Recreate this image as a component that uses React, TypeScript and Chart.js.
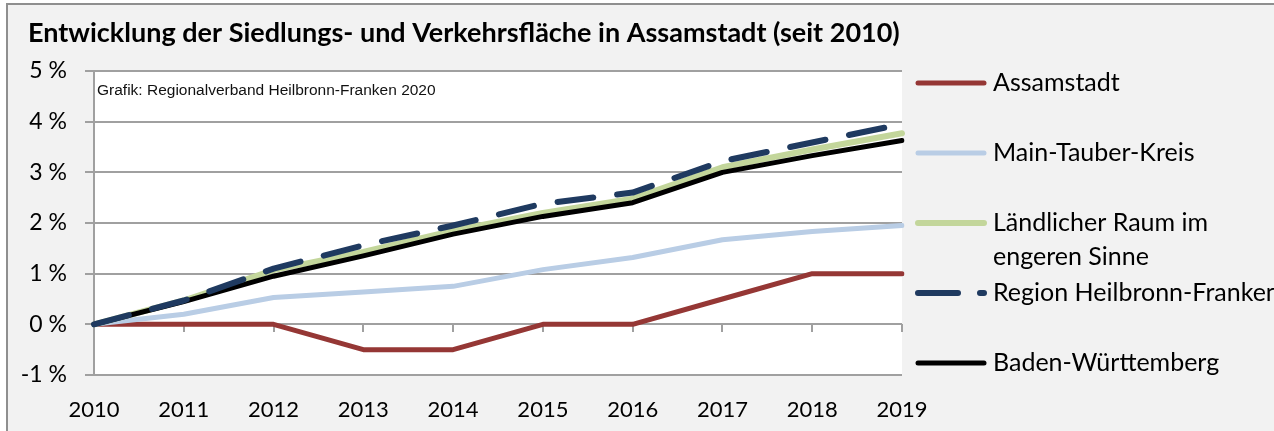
import React, { useEffect, useRef } from "react";
import { Chart, registerables } from "chart.js";
Chart.register(...registerables);

const titleText = "Entwicklung der Siedlungs- und Verkehrsfläche in Assamstadt (seit 2010)";
const sourceNote = "Grafik: Regionalverband Heilbronn-Franken 2020";
const years = ["2010", "2011", "2012", "2013", "2014", "2015", "2016", "2017", "2018", "2019"];
const yTicks = [-1, 0, 1, 2, 3, 4, 5];

const seriesLabels = [
  "Assamstadt",
  "Main-Tauber-Kreis",
  "Ländlicher Raum im\nengeren Sinne",
  "Region Heilbronn-Franken",
  "Baden-Württemberg",
];
const assamstadt = [0, 0, 0, -0.5, -0.5, 0, 0, 0.5, 1, 1];
const mainTauber = [0, 0.2, 0.53, 0.64, 0.75, 1.08, 1.32, 1.67, 1.83, 1.95];
const laendlich = [0, 0.47, 1.07, 1.43, 1.85, 2.2, 2.48, 3.1, 3.45, 3.77];
const region = [0, 0.47, 1.1, 1.56, 1.95, 2.38, 2.6, 3.22, 3.59, 3.95];
const badenWue = [0, 0.45, 0.95, 1.35, 1.78, 2.13, 2.4, 3.0, 3.33, 3.63];

const FONT = "Lato, 'Open Sans', sans-serif";
const GRID = "#a0a0a0";

const decorPlugin = {
  id: "decor",
  beforeDraw(chart: any) {
    const { ctx, chartArea } = chart;
    ctx.save();
    ctx.fillStyle = "#ffffff";
    ctx.fillRect(chartArea.left, chartArea.top, chartArea.right - chartArea.left, chartArea.bottom - chartArea.top);
    ctx.restore();
  },
  beforeDatasetsDraw(chart: any) {
    const { ctx, scales } = chart;
    const x = scales.x;
    const y0 = Math.round(scales.y.getPixelForValue(0));
    ctx.save();
    ctx.strokeStyle = GRID;
    ctx.lineWidth = 2;
    for (let i = 0; i < years.length; i++) {
      const px = Math.round(x.getPixelForValue(i));
      ctx.beginPath();
      ctx.moveTo(px, y0);
      ctx.lineTo(px, y0 + 8);
      ctx.stroke();
    }
    // source note
    ctx.fillStyle = "#111";
    ctx.font = "15.5px 'Liberation Sans', Arial, sans-serif";
    ctx.textBaseline = "middle";
    ctx.textAlign = "left";
    ctx.fillText(sourceNote, chart.chartArea.left + 3, 91);
    ctx.restore();
  },
  afterDraw(chart: any) {
    const { ctx } = chart;
    ctx.save();
    // title
    ctx.fillStyle = "#000";
    ctx.font = `bold 27px ${FONT}`;
    ctx.textBaseline = "alphabetic";
    ctx.textAlign = "left";
    ctx.fillText(titleText, 28, 42);
    // legend
    const x0 = 915;
    const x1 = 987;
    let yc = 83;
    chart.data.datasets.forEach((ds: any) => {
      ctx.save();
      ctx.strokeStyle = ds.borderColor;
      ctx.lineWidth = ds.borderWidth;
      ctx.lineCap = "round";
      if (ds.borderDash) {
        ctx.setLineDash([40, 22]);
      }
      ctx.beginPath();
      ctx.moveTo(x0 + 3, yc);
      ctx.lineTo(x1 - 3, yc);
      ctx.stroke();
      ctx.restore();
      ctx.fillStyle = "#000";
      ctx.font = `25px ${FONT}`;
      ctx.textBaseline = "middle";
      const lines = String(ds.label).split("\n");
      lines.forEach((ln: string, k: number) => ctx.fillText(ln, 993, yc + k * 34));
      yc += 70;
    });
    ctx.restore();
  },
};

export default function App() {
  const ref = useRef<HTMLCanvasElement | null>(null);
  useEffect(() => {
    if (!ref.current) return;
    const mk = (i: number, data: number[], color: string, width: number, order: number, dash?: number[]) => ({
      label: seriesLabels[i],
      data,
      borderColor: color,
      backgroundColor: color,
      borderWidth: width,
      borderDash: dash,
      borderCapStyle: "round",
      borderJoinStyle: "round",
      pointRadius: 0,
      tension: 0,
      fill: false,
      order,
    });
    const chart = new Chart(ref.current, {
      type: "line",
      data: {
        labels: years,
        datasets: [
          mk(0, assamstadt, "#953735", 5, 5),
          mk(1, mainTauber, "#b9cde5", 5, 4),
          mk(2, laendlich, "#c3d69b", 6, 3),
          mk(3, region, "#1f3a60", 6, 1, [36, 24]),
          mk(4, badenWue, "#000000", 5, 2),
        ] as any,
      },
      options: {
        animation: false,
        responsive: false,
        maintainAspectRatio: false,
        devicePixelRatio: 1,
        layout: { padding: { top: 71, right: 372, left: 0, bottom: 0 } },
        plugins: { legend: { display: false }, tooltip: { enabled: false }, title: { display: false } },
        scales: {
          x: {
            type: "category",
            offset: false,
            grid: { display: false, drawTicks: false },
            border: { display: false },
            ticks: { font: { family: FONT, size: 22 }, color: "#000", padding: 22, maxRotation: 0, autoSkip: false },
            afterFit: (s: any) => {
              s.height = 56;
            },
          },
          y: {
            min: -1,
            max: 5,
            afterBuildTicks: (s: any) => {
              s.ticks = yTicks.map((v) => ({ value: v }));
            },
            ticks: {
              font: { family: FONT, size: 23 },
              color: "#000",
              padding: 18,
              callback: (v: any) => `${v} %`,
            },
            grid: { color: GRID, lineWidth: 2, tickLength: 9 },
            border: { color: GRID, width: 2 },
            afterFit: (s: any) => {
              s.width = 94;
            },
          },
        },
      },
      plugins: [decorPlugin],
    } as any);
    return () => chart.destroy();
  }, []);
  return (
    <div style={{ position: "fixed", left: 0, top: 0, width: 1274, height: 431, background: "#fff", overflow: "hidden" }}>
      <div
        style={{
          position: "absolute",
          left: 6,
          top: 3,
          width: 1290,
          height: 450,
          borderTop: "2px solid #8f8f8f",
          borderLeft: "2px solid #8f8f8f",
          background: "#f2f2f2",
        }}
      />
      <canvas ref={ref} width={1274} height={431} style={{ position: "absolute", left: 0, top: 0, width: 1274, height: 431 }} />
    </div>
  );
}
